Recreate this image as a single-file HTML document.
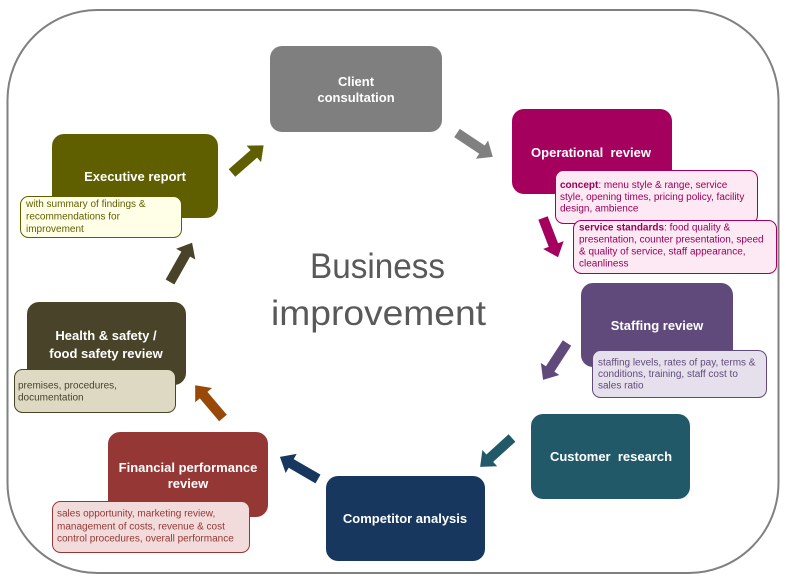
<!DOCTYPE html>
<html>
<head>
<meta charset="utf-8">
<style>
  html, body { margin: 0; padding: 0; background: #ffffff; }
  body { width: 786px; height: 583px; overflow: hidden; }
  svg { display: block; }
  .t { font-family: "Liberation Sans", Arial, sans-serif; font-weight: bold; font-size: 13px; fill: #ffffff; text-anchor: middle; }
  .c { font-family: "Liberation Sans", Arial, sans-serif; font-size: 10px; }
</style>
</head>
<body>
<svg width="786" height="583" viewBox="0 0 786 583" xmlns="http://www.w3.org/2000/svg">
  <!-- outer frame -->
  <rect x="7.5" y="10" width="771" height="563" rx="90" ry="90" fill="#ffffff" stroke="#808080" stroke-width="2"/>

  <!-- Title -->
  <text x="310" y="278" font-family="'Liberation Sans', Arial, sans-serif" font-size="35" fill="#595959" textLength="135" lengthAdjust="spacingAndGlyphs">Business</text>
  <text x="271" y="325" font-family="'Liberation Sans', Arial, sans-serif" font-size="35" fill="#595959" textLength="215" lengthAdjust="spacingAndGlyphs">improvement</text>

  <!-- Arrows -->
  <g transform="translate(232,173) rotate(-41.2)"><polygon points="0,-5 29,-5 29,-11 42,0 29,11 29,5 0,5" fill="#5f5f00"/></g>
  <g transform="translate(457,133) rotate(33.7)"><polygon points="0,-5 30,-5 30,-11 43,0 30,11 30,5 0,5" fill="#808080"/></g>
  <g transform="translate(543,218) rotate(69)"><polygon points="0,-5 29,-5 29,-11 42,0 29,11 29,5 0,5" fill="#a5005e"/></g>
  <g transform="translate(567,343) rotate(123)"><polygon points="0,-5 31,-5 31,-11 44,0 31,11 31,5 0,5" fill="#604a7b"/></g>
  <g transform="translate(512,438) rotate(137.8)"><polygon points="0,-5 30,-5 30,-11 43,0 30,11 30,5 0,5" fill="#215968"/></g>
  <g transform="translate(318,479) rotate(210.1)"><polygon points="0,-5 31,-5 31,-11 44,0 31,11 31,5 0,5" fill="#17375e"/></g>
  <g transform="translate(223,418) rotate(-130.3)"><polygon points="0,-5 30,-5 30,-11 43,0 30,11 30,5 0,5" fill="#984807"/></g>
  <g transform="translate(170,282) rotate(-60.6)"><polygon points="0,-5 32,-5 32,-11 45,0 32,11 32,5 0,5" fill="#494429"/></g>

  <!-- Client consultation -->
  <rect x="270" y="46" width="172" height="86" rx="12" fill="#7f7f7f"/>
  <text class="t" x="356" y="86">Client</text>
  <text class="t" x="356" y="102">consultation</text>

  <!-- Operational review -->
  <rect x="512" y="109" width="160" height="85" rx="12" fill="#a5005e"/>
  <text class="t" x="591" y="157" xml:space="preserve">Operational  review</text>
  <rect x="555.5" y="170.5" width="202" height="53" rx="8" fill="#fde9f3" stroke="#a5005e" stroke-width="1"/>
  <text class="c" x="560" y="188" fill="#9a0058"><tspan font-weight="bold">concept</tspan>: menu style &amp; range, service</text>
  <text class="c" x="560" y="200" fill="#9a0058">style, opening times, pricing policy, facility</text>
  <text class="c" x="560" y="211.5" fill="#9a0058">design, ambience</text>
  <rect x="573.5" y="220.5" width="203" height="53" rx="8" fill="#fde9f3" stroke="#a5005e" stroke-width="1"/>
  <text class="c" x="579" y="230.5" fill="#9a0058"><tspan font-weight="bold">service standards</tspan>: food quality &amp;</text>
  <text class="c" x="579" y="242.5" fill="#9a0058">presentation, counter presentation, speed</text>
  <text class="c" x="579" y="254.5" fill="#9a0058">&amp; quality of service, staff appearance,</text>
  <text class="c" x="579" y="266.5" fill="#9a0058">cleanliness</text>

  <!-- Staffing review -->
  <rect x="581" y="283" width="152" height="84" rx="12" fill="#604a7b"/>
  <text class="t" x="657" y="330">Staffing review</text>
  <rect x="592.5" y="350.5" width="174" height="47" rx="8" fill="#e6e0ec" stroke="#604a7b" stroke-width="1"/>
  <text class="c" x="598" y="365.5" fill="#604a7b">staffing levels, rates of pay, terms &amp;</text>
  <text class="c" x="598" y="377" fill="#604a7b">conditions, training, staff cost to</text>
  <text class="c" x="598" y="388.5" fill="#604a7b">sales ratio</text>

  <!-- Customer research -->
  <rect x="531" y="414" width="159" height="85" rx="12" fill="#215968"/>
  <text class="t" x="611" y="461" xml:space="preserve">Customer  research</text>

  <!-- Competitor analysis -->
  <rect x="326" y="476" width="159" height="85" rx="12" fill="#17375e"/>
  <text class="t" x="405" y="523">Competitor analysis</text>

  <!-- Financial performance review -->
  <rect x="108" y="432" width="160" height="85" rx="12" fill="#953735"/>
  <text class="t" x="188" y="472">Financial performance</text>
  <text class="t" x="188" y="488">review</text>
  <rect x="52.5" y="501.5" width="197" height="51" rx="8" fill="#f2dcdb" stroke="#953735" stroke-width="1"/>
  <text class="c" x="57" y="516.5" fill="#953735">sales opportunity, marketing review,</text>
  <text class="c" x="57" y="529.5" fill="#953735">management of costs, revenue &amp; cost</text>
  <text class="c" x="57" y="541.5" fill="#953735">control procedures, overall performance</text>

  <!-- Health & safety -->
  <rect x="27" y="302" width="159" height="83" rx="12" fill="#494429"/>
  <text class="t" x="106" y="340">Health &amp; safety /</text>
  <text class="t" x="106" y="358">food safety review</text>
  <rect x="14.5" y="369.5" width="161" height="43" rx="8" fill="#ddd9c3" stroke="#494429" stroke-width="1"/>
  <text class="c" x="18" y="388.5" fill="#494429">premises, procedures,</text>
  <text class="c" x="18" y="400.5" fill="#494429">documentation</text>

  <!-- Executive report -->
  <rect x="52" y="134" width="166" height="84" rx="12" fill="#5f5f00"/>
  <text class="t" x="135" y="181">Executive report</text>
  <rect x="20.5" y="196.5" width="161" height="41" rx="8" fill="#ffffe8" stroke="#5f5f00" stroke-width="1"/>
  <text class="c" x="26" y="207" fill="#5f5f00">with summary of findings &amp;</text>
  <text class="c" x="26" y="219.5" fill="#5f5f00">recommendations for</text>
  <text class="c" x="26" y="232" fill="#5f5f00">improvement</text>
</svg>
</body>
</html>
